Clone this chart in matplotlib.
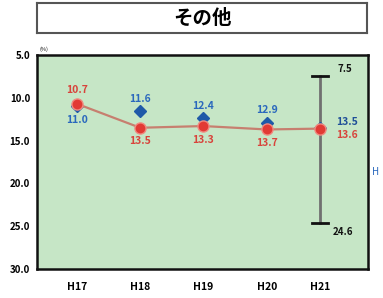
import matplotlib.pyplot as plt
import numpy as np

plt.rcParams['font.family'] = ['Noto Sans CJK JP', 'DejaVu Sans']

years = ['H17', 'H18', 'H19', 'H20', 'H21']
red_vals = [10.7, 13.5, 13.3, 13.7, 13.6]
blue_vals = [11.0, 11.6, 12.4, 12.9, 13.5]
range_low = 7.5
range_high = 24.6
yticks = [5.0, 10.0, 15.0, 20.0, 25.0, 30.0]

# layout: H21 sits a bit closer to H20 in the original
xpos = np.array([0, 1, 2, 3, 3.84])

fig = plt.figure(figsize=(3.83, 2.98), dpi=100)
fig.patch.set_facecolor('white')

# title box
tax = fig.add_axes([37/383, 1-33/298, 330/383, 30/298])
tax.set_xticks([])
tax.set_yticks([])
for s in tax.spines.values():
    s.set_color('#555555')
    s.set_linewidth(1.5)
tax.text(0.5, 0.5, 'その他', ha='center', va='center', fontsize=14,
         fontweight='bold', transform=tax.transAxes)

ax = fig.add_axes([37/383, 1-269/298, 331/383, 214/298])
ax.set_facecolor('#c6e6c6')
for s in ax.spines.values():
    s.set_color('#111111')
    s.set_linewidth(1.8)

# range bar for H21
ax.plot([xpos[4], xpos[4]], [range_low, range_high], color='#707070', lw=2, zorder=2)
for v in (range_low, range_high):
    ax.plot([xpos[4]-0.13, xpos[4]+0.13], [v, v], color='#111111', lw=2, zorder=3)
ax.text(xpos[4]+0.28, range_low-0.3, f'{range_low:.1f}', fontsize=7, fontweight='bold',
        ha='left', va='bottom', color='#111111')
ax.text(xpos[4]+0.2, range_high+0.5, f'{range_high:.1f}', fontsize=7, fontweight='bold',
        ha='left', va='top', color='#111111')

# blue diamonds
ax.plot(xpos, blue_vals, linestyle='none', marker='D', markersize=6.5,
        color='#1f5aa8', zorder=4)
# red line with circles
ax.plot(xpos, red_vals, color='#c77f6f', lw=1.6, zorder=5)
ax.plot(xpos, red_vals, linestyle='none', marker='o', markersize=8,
        markerfacecolor='#e23a34', markeredgecolor='#f08a80', markeredgewidth=1, zorder=6)

blue_c = '#2a68bd'
red_c = '#d8433b'
# labels
ax.text(xpos[0], red_vals[0]-1.0, f'{red_vals[0]:.1f}', color=red_c, fontsize=7.5,
        fontweight='bold', ha='center', va='bottom')
ax.text(xpos[0], blue_vals[0]+1.0, f'{blue_vals[0]:.1f}', color=blue_c, fontsize=7.5,
        fontweight='bold', ha='center', va='top')
for i in range(1, 4):
    ax.text(xpos[i], blue_vals[i]-0.9, f'{blue_vals[i]:.1f}', color=blue_c, fontsize=7.5,
            fontweight='bold', ha='center', va='bottom')
    ax.text(xpos[i], red_vals[i]+1.0, f'{red_vals[i]:.1f}', color=red_c, fontsize=7.5,
            fontweight='bold', ha='center', va='top')
ax.text(xpos[4]+0.25, blue_vals[4]-0.1, f'{blue_vals[4]:.1f}', color='#1f4f98', fontsize=7.5,
        fontweight='bold', ha='left', va='bottom')
ax.text(xpos[4]+0.25, red_vals[4]+0.2, f'{red_vals[4]:.1f}', color=red_c, fontsize=7.5,
        fontweight='bold', ha='left', va='top')

ax.set_ylim(30, 5)
ax.set_xlim(-0.63, 4.6)
ax.set_yticks(yticks)
ax.set_yticklabels([f'{v:.1f}' for v in yticks], fontsize=7, fontweight='bold')
ax.set_xticks(xpos)
ax.set_xticklabels(years, fontsize=7.5, fontweight='bold')
ax.tick_params(length=0, pad=5)
ax.tick_params(axis='x', pad=9)

fig.text(44/383, 1-52/298, '(%)', fontsize=4, ha='center', va='bottom')
fig.text(372/383, 1-172/298, 'H', fontsize=7, color='#2a68bd', style='italic',
         ha='left', va='center')

fig.savefig('out.png', dpi=100)
